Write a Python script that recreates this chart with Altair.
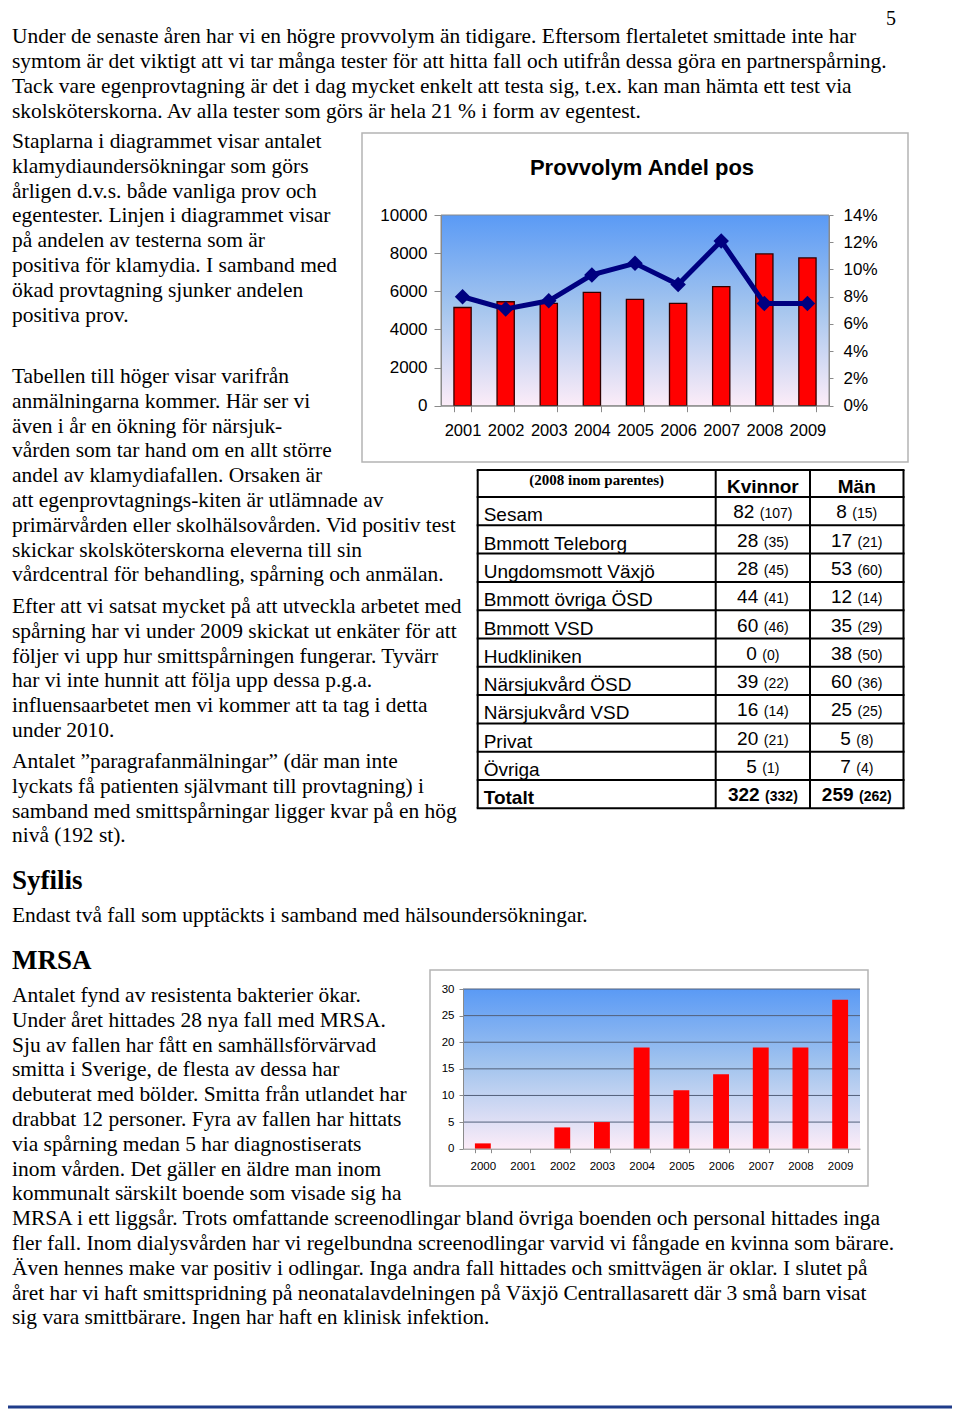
import altair as alt
import pandas as pd

W, H = 944, 1401
M = 8  # page margin


def X(v):
    return v - M


def Y(v):
    return v - M


SERIF = "Liberation Serif"
SANS = "Liberation Sans"

# ---------------- data ----------------
chl_years = ["2001", "2002", "2003", "2004", "2005", "2006", "2007", "2008", "2009"]
chl_tests = [5150, 5450, 5370, 5940, 5580, 5370, 6240, 7960, 7750]
chl_pos_share = [0.080, 0.071, 0.077, 0.096, 0.1045, 0.089, 0.121, 0.075, 0.075]
chl_left_ticks = [0, 2000, 4000, 6000, 8000, 10000]
chl_right_ticks = [0, 0.02, 0.04, 0.06, 0.08, 0.10, 0.12, 0.14]
chl_title = "Provvolym Andel pos"

mrsa_years = ["2000", "2001", "2002", "2003", "2004", "2005", "2006", "2007", "2008", "2009"]
mrsa_cases = [1, 0, 4, 5, 19, 11, 14, 19, 19, 28]
mrsa_ticks = [0, 5, 10, 15, 20, 25, 30]

tbl_units = ["Sesam", "Bmmott Teleborg", "Ungdomsmott Växjö", "Bmmott övriga ÖSD",
             "Bmmott VSD", "Hudkliniken", "Närsjukvård ÖSD", "Närsjukvård VSD",
             "Privat", "Övriga", "Totalt"]
tbl_kv_2009 = [82, 28, 28, 44, 60, 0, 39, 16, 20, 5, 322]
tbl_kv_2008 = [107, 35, 45, 41, 46, 0, 22, 14, 21, 1, 332]
tbl_man_2009 = [8, 17, 53, 12, 35, 38, 60, 25, 5, 7, 259]
tbl_man_2008 = [15, 21, 60, 14, 29, 50, 36, 25, 8, 4, 262]
tbl_header = ["(2008 inom parentes)", "Kvinnor", "Män"]

page_number = "5"
para_top = [
    "Under de senaste åren har vi en högre provvolym än tidigare. Eftersom flertaletet smittade inte har",
    "symtom är det viktigt att vi tar många tester för att hitta fall och utifrån dessa göra en partnerspårning.",
    "Tack vare egenprovtagning är det i dag mycket enkelt att testa sig, t.ex. kan man hämta ett test via",
    "skolsköterskorna. Av alla tester som görs är hela 21 % i form av egentest.",
]
para_bars = [
    "Staplarna i diagrammet visar antalet",
    "klamydiaundersökningar som görs",
    "årligen d.v.s. både vanliga prov och",
    "egentester. Linjen i diagrammet visar",
    "på andelen av testerna som är",
    "positiva för klamydia. I samband med",
    "ökad provtagning sjunker andelen",
    "positiva prov.",
]
para_table = [
    "Tabellen till höger visar varifrån",
    "anmälningarna kommer. Här ser vi",
    "även i år en ökning för närsjuk-",
    "vården som tar hand om en allt större",
    "andel av klamydiafallen. Orsaken är",
    "att egenprovtagnings-kiten är utlämnade av",
    "primärvården eller skolhälsovården. Vid positiv test",
    "skickar skolsköterskorna eleverna till sin",
    "vårdcentral för behandling, spårning och anmälan.",
]
para_tracing = [
    "Efter att vi satsat mycket på att utveckla arbetet med",
    "spårning har vi under 2009 skickat ut enkäter för att",
    "följer vi upp hur smittspårningen fungerar. Tyvärr",
    "har vi inte hunnit att följa upp dessa p.g.a.",
    "influensaarbetet men vi kommer att ta tag i detta",
    "under 2010.",
]
para_paragraf = [
    "Antalet \u201dparagrafanmälningar\u201d (där man inte",
    "lyckats få patienten självmant till provtagning) i",
    "samband med smittspårningar ligger kvar på en hög",
    "nivå (192 st).",
]
head_syfilis = "Syfilis"
para_syfilis = ["Endast två fall som upptäckts i samband med hälsoundersökningar."]
head_mrsa = "MRSA"
para_mrsa = [
    "Antalet fynd av resistenta bakterier ökar.",
    "Under året hittades 28 nya fall med MRSA.",
    "Sju av fallen har fått en samhällsförvärvad",
    "smitta i Sverige, de flesta av dessa har",
    "debuterat med bölder. Smitta från utlandet har",
    "drabbat 12 personer. Fyra av fallen har hittats",
    "via spårning medan 5 har diagnostiserats",
    "inom vården. Det gäller en äldre man inom",
    "kommunalt särskilt boende som visade sig ha",
    "MRSA i ett liggsår. Trots omfattande screenodlingar bland övriga boenden och personal hittades inga",
    "fler fall. Inom dialysvården har vi regelbundna screenodlingar varvid vi fångade en kvinna som bärare.",
    "Även hennes make var positiv i odlingar. Inga andra fall hittades och smittvägen är oklar. I slutet på",
    "året har vi haft smittspridning på neonatalavdelningen på Växjö Centrallasarett där 3 små barn visat",
    "sig vara smittbärare. Ingen har haft en klinisk infektion.",
]

# ---------------- helpers ----------------
one = pd.DataFrame({"k": [0]})
LS = 24.8  # line spacing of body text
BODY = 21.45


def box(x1, y1, x2, y2, **kw):
    return alt.Chart(one).mark_rect(**kw).encode(
        x=alt.value(X(x1)), x2=alt.value(X(x2)), y=alt.value(Y(y1)), y2=alt.value(Y(y2)))


def text_block(lines, x, y0, step=LS, size=BODY, font=SERIF, weight="normal", align="left",
               baseline="alphabetic"):
    df = pd.DataFrame({
        "t": lines,
        "x": [X(x)] * len(lines),
        "y": [Y(y0 + i * step) for i in range(len(lines))],
    })
    return alt.Chart(df).mark_text(
        align=align, baseline=baseline, font=font, fontSize=size,
        fontWeight=weight, color="black"
    ).encode(
        x=alt.X("x:Q", scale=None, axis=None),
        y=alt.Y("y:Q", scale=None, axis=None),
        text="t:N",
    )


def pos_text(rows, size, weight, align="left", font=SANS):
    return alt.Chart(pd.DataFrame(rows)).mark_text(
        align=align, baseline="alphabetic", font=font, fontSize=size,
        fontWeight=weight, color="black").encode(
        x=alt.X("x:Q", scale=None, axis=None), y=alt.Y("y:Q", scale=None, axis=None),
        text="t:N")


def grad(top, mid, bottom):
    return alt.Gradient(
        gradient="linear", x1=0, x2=0, y1=0, y2=1,
        stops=[alt.GradientStop(color=top, offset=0),
               alt.GradientStop(color=mid, offset=0.5),
               alt.GradientStop(color=bottom, offset=1)])


# ---------------- chart 1: Provvolym / Andel pos ----------------
P1 = dict(l=441, r=829, t=215, b=405.7)
df1 = pd.DataFrame({"year": chl_years, "tests": chl_tests, "share": chl_pos_share})
x1 = alt.Scale(domain=chl_years, range=[X(P1["l"]), X(P1["r"])], paddingInner=0.6, paddingOuter=0.3)
y1l = alt.Scale(domain=[0, 10000], range=[Y(P1["b"]), Y(P1["t"])], nice=False)
y1r = alt.Scale(domain=[0, 0.14], range=[Y(P1["b"]), Y(P1["t"])], nice=False)

frame1 = box(362, 133, 908, 462, fill="white", stroke="#b4b4b4", strokeWidth=1.5)
bg1 = box(P1["l"], P1["t"], P1["r"], P1["b"], color=grad("#5a9af5", "#a6c6ee", "#fcecf8"),
          stroke="#8a8a8a", strokeWidth=1)
title1 = text_block([chl_title], 642, 175, size=22, font=SANS, weight="bold", align="center")

bars1 = alt.Chart(df1).mark_bar(color="#ff0000", stroke="#300000", strokeWidth=1.3).encode(
    x=alt.X("year:N", scale=x1, title=None, axis=alt.Axis(
        orient="bottom", offset=Y(P1["b"]) - H, labelFont=SANS, labelFontSize=16.5,
        labelColor="black", labelAngle=0, labelOverlap=False, tickBand="extent",
        domainColor="#8a8a8a", tickColor="#8a8a8a", tickSize=6, labelPadding=11, zindex=1)),
    y=alt.Y("tests:Q", scale=y1l, title=None, axis=alt.Axis(
        orient="left", offset=-X(P1["l"]), values=chl_left_ticks, format="d", grid=False,
        labelFont=SANS, labelFontSize=17, labelColor="black", labelOverlap=False,
        domainColor="#8a8a8a", tickColor="#8a8a8a", tickSize=7, labelPadding=7, zindex=1)),
)
line1 = alt.Chart(df1).mark_line(color="#000080", strokeWidth=5).encode(
    x=alt.X("year:N", scale=x1, bandPosition=0.5, axis=None),
    y=alt.Y("share:Q", scale=y1r, title=None, axis=alt.Axis(
        orient="right", offset=X(P1["r"]) - W, values=chl_right_ticks, format=".0%", grid=False,
        labelFont=SANS, labelFontSize=17, labelColor="black", labelOverlap=False,
        domainColor="#8a8a8a", tickColor="#8a8a8a", tickSize=4, labelPadding=10, zindex=1)),
)
pts1 = alt.Chart(df1).mark_point(shape="diamond", filled=True, size=240, color="#000080", opacity=1).encode(
    x=alt.X("year:N", scale=x1, bandPosition=0.5, axis=None),
    y=alt.Y("share:Q", scale=y1r, axis=None),
)

# ---------------- table ----------------
T_TOP, T_HDR, T_ROW = 470, 27, 28.3
T_COLS = [477.7, 715.7, 810, 903.5]
n_rows = len(tbl_units)
h_lines = [T_TOP] + [T_TOP + T_HDR + i * T_ROW for i in range(n_rows + 1)]
hl_df = pd.DataFrame({"y": [Y(v) for v in h_lines], "x1": X(T_COLS[0]) - 1, "x2": X(T_COLS[-1]) + 1})
vl_df = pd.DataFrame({"x": [X(v) for v in T_COLS], "y1": Y(h_lines[0]), "y2": Y(h_lines[-1])})
tbl_h = alt.Chart(hl_df).mark_rule(color="black", strokeWidth=2).encode(
    x=alt.X("x1:Q", scale=None, axis=None), x2="x2:Q", y=alt.Y("y:Q", scale=None, axis=None))
tbl_v = alt.Chart(vl_df).mark_rule(color="black", strokeWidth=2).encode(
    x=alt.X("x:Q", scale=None, axis=None), y=alt.Y("y1:Q", scale=None, axis=None), y2="y2:Q")

row_bottoms = h_lines[2:]
lab_norm, lab_bold = [], []
for u, b in zip(tbl_units, row_bottoms):
    (lab_bold if u == "Totalt" else lab_norm).append({"t": u, "x": X(T_COLS[0] + 6), "y": Y(b - 4)})
tbl_labels = pos_text(lab_norm, 19, "normal")
tbl_labels_b = pos_text(lab_bold, 19, "bold")

FB, FS, GAP = 19, 14, 5.5
big_n, big_b, small_n, small_b = [], [], [], []
for col_i, (vals, prev) in enumerate([(tbl_kv_2009, tbl_kv_2008), (tbl_man_2009, tbl_man_2008)]):
    centre = (T_COLS[col_i + 1] + T_COLS[col_i + 2]) / 2
    for r in range(n_rows):
        b, s = str(vals[r]), "(" + str(prev[r]) + ")"
        wb = len(b) * 0.556 * FB
        ws = ((len(s) - 2) * 0.556 + 0.666) * FS
        start = centre - (wb + GAP + ws) / 2
        yy = Y(row_bottoms[r] - 7)
        bold = tbl_units[r] == "Totalt"
        (big_b if bold else big_n).append({"t": b, "x": X(start), "y": yy})
        (small_b if bold else small_n).append({"t": s, "x": X(start + wb + GAP), "y": yy})

tbl_nums = [pos_text(big_n, FB, "normal"), pos_text(big_b, FB, "bold"),
            pos_text(small_n, FS, "normal"), pos_text(small_b, FS, "bold")]
hdr0 = text_block([tbl_header[0]], (T_COLS[0] + T_COLS[1]) / 2, 485, size=15, font=SERIF,
                  weight="bold", align="center")
hdr1 = text_block([tbl_header[1]], (T_COLS[1] + T_COLS[2]) / 2, 493, size=19, font=SANS,
                  weight="bold", align="center")
hdr2 = text_block([tbl_header[2]], (T_COLS[2] + T_COLS[3]) / 2, 493, size=19, font=SANS,
                  weight="bold", align="center")

# ---------------- chart 2: MRSA ----------------
P2 = dict(l=463, r=860, t=989, b=1148.7)
df2 = pd.DataFrame({"year": mrsa_years, "cases": mrsa_cases})
x2 = alt.Scale(domain=mrsa_years, range=[X(P2["l"]), X(P2["r"])], paddingInner=0.6, paddingOuter=0.3)
y2 = alt.Scale(domain=[0, 30], range=[Y(P2["b"]), Y(P2["t"])], nice=False)

frame2 = box(430, 970, 868, 1186, fill="white", stroke="#b4b4b4", strokeWidth=1.5)
bg2 = box(P2["l"], P2["t"], P2["r"], P2["b"], color=grad("#5a9af5", "#a6c6ee", "#fcecf8"))
grid2 = alt.Chart(pd.DataFrame({"v": mrsa_ticks[1:]})).mark_rule(color="#52607a", strokeWidth=1).encode(
    y=alt.Y("v:Q", scale=y2, axis=None),
    x=alt.value(X(P2["l"])), x2=alt.value(X(P2["r"])))
bars2 = alt.Chart(df2).mark_bar(color="#ff0000").encode(
    x=alt.X("year:N", scale=x2, title=None, axis=alt.Axis(
        orient="bottom", offset=Y(P2["b"]) - H, labelFont=SANS, labelFontSize=11.5,
        labelColor="black", labelAngle=0, labelOverlap=False, tickBand="extent",
        domainColor="#8a8a8a", tickColor="#8a8a8a", tickSize=4, labelPadding=8, zindex=1)),
    y=alt.Y("cases:Q", scale=y2, title=None, axis=alt.Axis(
        orient="left", offset=-X(P2["l"]), values=mrsa_ticks, grid=False,
        labelFont=SANS, labelFontSize=11.5, labelColor="black", labelOverlap=False,
        domainColor="#8a8a8a", tickColor="#8a8a8a", tickSize=4, labelPadding=5, zindex=1)),
)

# ---------------- page text ----------------
pg = text_block([page_number], 891, 9, size=20, align="center", baseline="top")
t_top = text_block(para_top, 12, 43, step=25)
t_bars = text_block(para_bars, 12, 148)
t_table = text_block(para_table, 12, 383)
t_trace = text_block(para_tracing, 12, 613)
t_parag = text_block(para_paragraf, 12, 768)
h_syf = text_block([head_syfilis], 12, 889, size=27, weight="bold")
t_syf = text_block(para_syfilis, 12, 922)
h_mrsa = text_block([head_mrsa], 12, 969, size=27, weight="bold")
t_mrsa = text_block(para_mrsa, 12, 1002)

bottom_rule = alt.Chart(one).mark_rule(color="#1f3c8a", strokeWidth=3).encode(
    x=alt.value(0), x2=alt.value(W), y=alt.value(H - 2))

chart = alt.layer(
    frame1, bg1, bars1, line1, pts1, title1,
    tbl_h, tbl_v, tbl_labels, tbl_labels_b, *tbl_nums, hdr0, hdr1, hdr2,
    frame2, bg2, grid2, bars2,
    pg, t_top, t_bars, t_table, t_trace, t_parag, h_syf, t_syf, h_mrsa, t_mrsa,
    bottom_rule,
).resolve_scale(x="independent", y="independent").properties(
    width=W, height=H, autosize=alt.AutoSizeParams(type="none"), padding=0,
    background="white",
).configure_view(stroke=None)

chart.save("out.html", embed_options={"renderer": "svg", "actions": False})
